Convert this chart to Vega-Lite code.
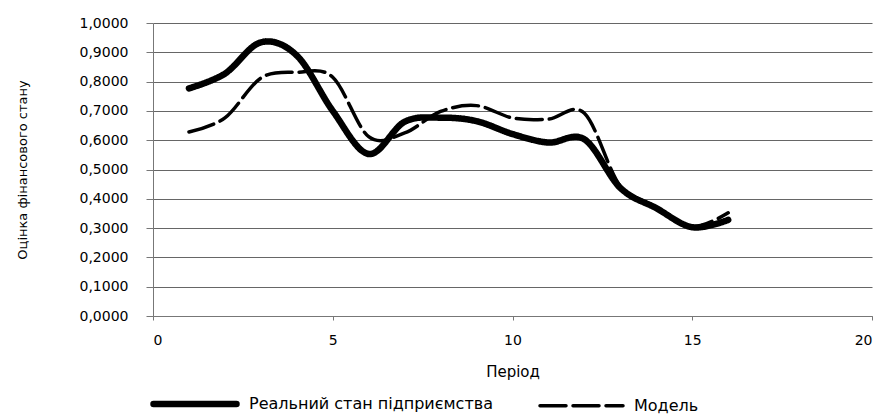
{
  "$schema": "https://vega.github.io/schema/vega-lite/v6.json",
  "width": 719,
  "height": 293,
  "autosize": {"type": "none"},
  "padding": {"left": 153, "top": 23, "right": 15, "bottom": 99},
  "background": "white",
  "config": {
    "view": {"stroke": null},
    "font": "DejaVu Sans"
  },
  "data": {
    "values": [
      {"period": 1, "series": "Реальний стан підприємства", "value": 0.777},
      {"period": 2, "series": "Реальний стан підприємства", "value": 0.827},
      {"period": 3, "series": "Реальний стан підприємства", "value": 0.934},
      {"period": 4, "series": "Реальний стан підприємства", "value": 0.889},
      {"period": 5, "series": "Реальний стан підприємства", "value": 0.700},
      {"period": 6, "series": "Реальний стан підприємства", "value": 0.553},
      {"period": 7, "series": "Реальний стан підприємства", "value": 0.663},
      {"period": 8, "series": "Реальний стан підприємства", "value": 0.677},
      {"period": 9, "series": "Реальний стан підприємства", "value": 0.665},
      {"period": 10, "series": "Реальний стан підприємства", "value": 0.621},
      {"period": 11, "series": "Реальний стан підприємства", "value": 0.592},
      {"period": 12, "series": "Реальний стан підприємства", "value": 0.603},
      {"period": 13, "series": "Реальний стан підприємства", "value": 0.437},
      {"period": 14, "series": "Реальний стан підприємства", "value": 0.368},
      {"period": 15, "series": "Реальний стан підприємства", "value": 0.303},
      {"period": 16, "series": "Реальний стан підприємства", "value": 0.328},
      {"period": 1, "series": "Модель", "value": 0.628},
      {"period": 2, "series": "Модель", "value": 0.676},
      {"period": 3, "series": "Модель", "value": 0.812},
      {"period": 4, "series": "Модель", "value": 0.832},
      {"period": 5, "series": "Модель", "value": 0.815},
      {"period": 6, "series": "Модель", "value": 0.612},
      {"period": 7, "series": "Модель", "value": 0.625},
      {"period": 8, "series": "Модель", "value": 0.698},
      {"period": 9, "series": "Модель", "value": 0.718},
      {"period": 10, "series": "Модель", "value": 0.676},
      {"period": 11, "series": "Модель", "value": 0.672},
      {"period": 12, "series": "Модель", "value": 0.692},
      {"period": 13, "series": "Модель", "value": 0.442},
      {"period": 14, "series": "Модель", "value": 0.372},
      {"period": 15, "series": "Модель", "value": 0.305},
      {"period": 16, "series": "Модель", "value": 0.352}
    ]
  },
  "mark": {"type": "line", "interpolate": "cardinal", "strokeCap": "round", "strokeJoin": "round"},
  "encoding": {
    "x": {
      "field": "period",
      "type": "quantitative",
      "scale": {"domain": [0, 20], "nice": false},
      "axis": {
        "values": [0, 5, 10, 15, 20],
        "title": "Період",
        "grid": false,
        "domainColor": "#777777",
        "tickColor": "#777777",
        "tickSize": 4,
        "labelPadding": 13,
        "labelFontSize": 14,
        "labelColor": "black",
        "titleFontSize": 15,
        "titleFontWeight": "normal",
        "titleColor": "black",
        "titlePadding": 17
      }
    },
    "y": {
      "field": "value",
      "type": "quantitative",
      "scale": {"domain": [0, 1], "nice": false},
      "axis": {
        "values": [0, 0.1, 0.2, 0.3, 0.4, 0.5, 0.6, 0.7, 0.8, 0.9, 1.0],
        "labelExpr": "replace(format(datum.value, '.4f'), '.', ',')",
        "title": "Оцінка фінансового стану",
        "grid": true,
        "gridColor": "#666666",
        "gridOpacity": 1,
        "domainColor": "#777777",
        "tickColor": "#777777",
        "tickSize": 7,
        "labelPadding": 18,
        "labelFontSize": 14,
        "labelColor": "black",
        "titleFontSize": 13,
        "titleFontWeight": "normal",
        "titleColor": "black",
        "titlePadding": 50
      }
    },
    "color": {
      "field": "series",
      "type": "nominal",
      "scale": {"domain": ["Реальний стан підприємства", "Модель"], "range": ["black", "black"]},
      "legend": {
        "title": null,
        "orient": "none",
        "direction": "horizontal",
        "legendX": -3,
        "legendY": 336,
        "symbolType": "stroke",
        "symbolSize": 6889,
        "labelFontSize": 16,
        "labelColor": "black",
        "labelOffset": 9,
        "labelLimit": 400,
        "columnPadding": 40,
        "encode": {
          "symbols": {
            "update": {
              "strokeDash": {"signal": "datum.value == 'Модель' ? [33, 20] : [1, 0]"},
              "strokeCap": {"value": "round"}
            }
          }
        }
      }
    },
    "strokeDash": {
      "field": "series",
      "type": "nominal",
      "scale": {"domain": ["Реальний стан підприємства", "Модель"], "range": [[1, 0], [26, 7]]}
    },
    "strokeWidth": {
      "field": "series",
      "type": "nominal",
      "scale": {"domain": ["Реальний стан підприємства", "Модель"], "range": [6.5, 3.5]}
    }
  }
}
